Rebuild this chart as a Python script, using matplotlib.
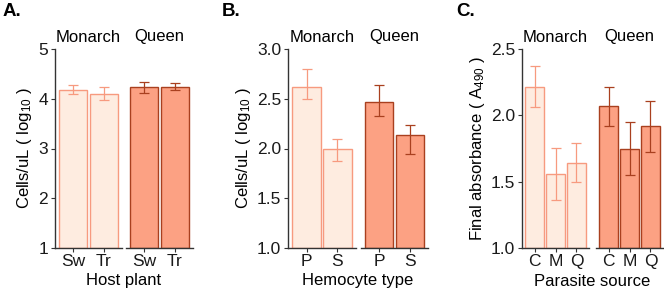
import numpy as np
import matplotlib.pyplot as plt

plt.rcParams["font.family"] = ["Liberation Sans", "DejaVu Sans"]
plt.rcParams["mathtext.default"] = "regular"

# ------------------------------------------------------------
# data
# ------------------------------------------------------------
species = ["Monarch", "Queen"]

# A. hemocyte concentration by host plant
a_cats = ["Sw", "Tr"]
a_mean = {"Monarch": [4.18, 4.09], "Queen": [4.24, 4.24]}
a_lo = {"Monarch": [4.10, 3.98], "Queen": [4.11, 4.17]}
a_hi = {"Monarch": [4.28, 4.23], "Queen": [4.34, 4.31]}

# B. hemocyte type
b_cats = ["P", "S"]
b_mean = {"Monarch": [2.62, 2.00], "Queen": [2.47, 2.14]}
b_lo = {"Monarch": [2.50, 1.87], "Queen": [2.33, 1.94]}
b_hi = {"Monarch": [2.80, 2.10], "Queen": [2.64, 2.24]}

# C. parasite source
c_cats = ["C", "M", "Q"]
c_mean = {"Monarch": [2.21, 1.56, 1.64], "Queen": [2.07, 1.75, 1.92]}
c_lo = {"Monarch": [2.06, 1.36, 1.50], "Queen": [1.92, 1.55, 1.72]}
c_hi = {"Monarch": [2.37, 1.75, 1.79], "Queen": [2.21, 1.95, 2.11]}

fill = {"Monarch": "#FEECE0", "Queen": "#FCA183"}
edge = {"Monarch": "#F79A7F", "Queen": "#A9401F"}
axcol = "#333333"

W, H = 664, 291
fig = plt.figure(figsize=(W / 100, H / 100), dpi=100)

top_px, bot_px = 49, 248


def px_axes(x0, x1):
    return fig.add_axes([x0 / W, (H - bot_px) / H, (x1 - x0) / W, (bot_px - top_px) / H])


def panel(letter, letter_x, facets, cats, mean, lo, hi, ylim, yticks, yfmt, ylabel, xlabel):
    axes = []
    for k, (sp, (x0, x1)) in enumerate(zip(species, facets)):
        ax = px_axes(x0, x1)
        x = np.arange(1, len(cats) + 1)
        m = np.array(mean[sp])
        err = np.vstack([m - np.array(lo[sp]), np.array(hi[sp]) - m])
        ax.bar(x, m - ylim[0], bottom=ylim[0], width=0.92, color=fill[sp],
               edgecolor=edge[sp], linewidth=1.0, zorder=2)
        ax.errorbar(x, m, yerr=err, fmt="none", ecolor=edge[sp], elinewidth=0.9,
                    capsize=3.5, capthick=0.9, zorder=3)
        ax.set_xlim(0.4, len(cats) + 0.6)
        ax.set_ylim(*ylim)
        ax.set_xticks(x)
        ax.set_xticklabels(cats, fontsize=12.5, color="#1a1a1a")
        ax.tick_params(axis="x", length=3, width=0.8, color=axcol, pad=1.5)
        for s in ["top", "right"]:
            ax.spines[s].set_visible(False)
        ax.spines["bottom"].set_color(axcol)
        ax.spines["bottom"].set_linewidth(1.0)
        if k == 0:
            ax.spines["left"].set_color(axcol)
            ax.spines["left"].set_linewidth(1.0)
            ax.set_yticks(yticks)
            ax.set_yticklabels([yfmt.format(t) for t in yticks], fontsize=12.5, color="#1a1a1a")
            ax.tick_params(axis="y", length=3, width=0.8, color=axcol, pad=2)
            ax.set_ylabel(ylabel, fontsize=12, labelpad=3)
        else:
            ax.spines["left"].set_visible(False)
            ax.set_yticks([])
        ax.set_facecolor("none")
        fig.text((x0 + x1) / 2 / W, 1 - 37 / H, sp, fontsize=12, ha="center", va="center")
        axes.append(ax)
    mid = (facets[0][0] + facets[1][1]) / 2
    fig.text(mid / W, 1 - 281 / H, xlabel, fontsize=12, ha="center", va="center")
    fig.text(letter_x / W, 1 - 12 / H, letter, fontsize=13.5, fontweight="bold",
             ha="left", va="center")
    return axes


panel("A.", 3, [(55, 122), (126, 193)], a_cats, a_mean, a_lo, a_hi,
      (1, 5), [1, 2, 3, 4, 5], "{:.0f}", "Cells/uL ( log$_{10}$ )", "Host plant")
panel("B.", 222, [(288, 356), (361, 428)], b_cats, b_mean, b_lo, b_hi,
      (1, 3), [1.0, 1.5, 2.0, 2.5, 3.0], "{:.1f}", "Cells/uL ( log$_{10}$ )", "Hemocyte type")
panel("C.", 456, [(522, 589), (596, 663)], c_cats, c_mean, c_lo, c_hi,
      (1, 2.5), [1.0, 1.5, 2.0, 2.5], "{:.1f}", "Final absorbance ( A$_{490}$ )", "Parasite source")

fig.savefig("out.png", dpi=100)
